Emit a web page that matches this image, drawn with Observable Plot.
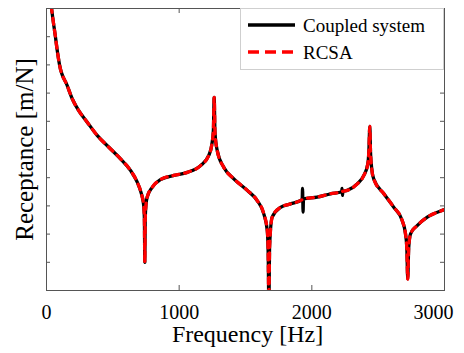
<!DOCTYPE html>
<html>
<head>
<meta charset="utf-8">
<script src="https://cdn.jsdelivr.net/npm/d3@7"></script>
<script src="https://cdn.jsdelivr.net/npm/@observablehq/plot@0.6"></script>
<style>
  body { margin: 0; background: #fff; }
  #wrap { position: relative; width: 464px; height: 353px; font-family: "Liberation Serif", "Times New Roman", serif; }
  #legend { position: absolute; left: 240px; top: 8px; }
</style>
</head>
<body>
<div id="wrap"></div>
<script>
// Frequency (Hz) and log10 receptance (decades above the bottom of the axis)
const freqHz = [25, 38, 50, 66, 81, 98, 156, 194, 243, 307, 382, 470, 558, 633, 684, 714, 733, 738, 741, 744, 750, 759, 797, 859, 960, 1061, 1161, 1223, 1249, 1258, 1264, 1270, 1287, 1336, 1412, 1513, 1588, 1638, 1664, 1671, 1676, 1682, 1701, 1764, 1839, 1927, 1937, 2040, 2141, 2225, 2234, 2267, 2342, 2392, 2422, 2430, 2437, 2442, 2452, 2467, 2543, 2618, 2681, 2706, 2716, 2723, 2730, 2744, 2794, 2870, 2995, 3000];
const rcsaLog = [10.5, 10.0, 9.57, 9.04, 8.51, 8.01, 7.27, 6.80, 6.38, 5.97, 5.50, 5.08, 4.67, 4.26, 3.84, 3.45, 3.01, 2.5, 1.0, 2.5, 3.05, 3.31, 3.66, 3.93, 4.08, 4.19, 4.43, 4.79, 5.26, 5.7, 6.85, 5.6, 4.96, 4.37, 3.96, 3.55, 3.19, 2.72, 2.13, 1.3, -0.5, 1.6, 2.60, 2.95, 3.07, 3.22, 3.25, 3.31, 3.43, 3.50, 3.52, 3.55, 3.78, 4.08, 4.49, 4.95, 5.82, 4.95, 4.3, 3.95, 3.43, 2.95, 2.48, 2.01, 1.5, 0.41, 1.5, 2.01, 2.30, 2.60, 2.86, 2.87];
// small extra modes seen only in the coupled-system curve
const glitchHz = [1930, 1934, 2228, 2231];
const glitchLog = [3.62, 2.78, 3.62, 3.37];

const xTicks = [0, 1000, 2000, 3000];
const yTicks = [0, 1, 2, 3, 4, 5, 6, 7, 8, 9, 10];
const seriesNames = ["Coupled system", "RCSA"];
const xLabel = "Frequency [Hz]";
const yLabel = "Receptance [m/N]";

const rcsa = freqHz.map((f, i) => ({f, v: rcsaLog[i]}));
const coupled = rcsa.concat(glitchHz.map((f, i) => ({f, v: glitchLog[i]}))).sort((a, b) => a.f - b.f);

const axisColor = "#555";
const chart = Plot.plot({
  width: 464,
  height: 353,
  marginLeft: 46,
  marginRight: 20,
  marginTop: 8,
  marginBottom: 63,
  x: {domain: [0, 3000], label: null},
  y: {domain: [0, 10], axis: null, label: null},
  style: {fontFamily: "Liberation Serif, Times New Roman, serif", background: "white", color: "black"},
  marks: [
    Plot.line(coupled, {x: "f", y: "v", stroke: "black", strokeWidth: 3.3, curve: "monotone-x", clip: true}),
    Plot.line(rcsa, {x: "f", y: "v", stroke: "#ff0000", strokeWidth: 3.3, strokeDasharray: "6,6", curve: "monotone-x", clip: true}),
    Plot.frame({stroke: axisColor}),
    Plot.tickX(xTicks, {x: d => d, stroke: axisColor, insetTop: 277}),
    Plot.tickX(xTicks, {x: d => d, stroke: axisColor, insetBottom: 277}),
    Plot.tickY(yTicks, {y: d => d, stroke: axisColor, insetRight: 394}),
    Plot.tickY(yTicks, {y: d => d, stroke: axisColor, insetLeft: 394}),
    Plot.axisX(xTicks.slice(0, 3), {tickSize: 0, tickPadding: 14, fontSize: 20, label: null, tickFormat: d => String(d)}),
    Plot.axisX(xTicks.slice(3), {tickSize: 0, tickPadding: 14, fontSize: 20, label: null, dx: -11, tickFormat: d => String(d)}),
    Plot.text([xLabel], {frameAnchor: "bottom", text: d => d, dy: 44, dx: 2, fontSize: 24, textAnchor: "middle", lineAnchor: "middle"}),
    Plot.text([yLabel], {frameAnchor: "left", text: d => d, rotate: -90, dx: -22, fontSize: 25, textAnchor: "middle", lineAnchor: "middle"})
  ]
});
const wrap = document.getElementById("wrap");
wrap.appendChild(chart);

// legend box inside the frame, top-right
const leg = d3.select(wrap).append("svg")
  .attr("id", "legend").attr("width", 204).attr("height", 62);
leg.append("rect").attr("x", 0.5).attr("y", 0.5).attr("width", 203).attr("height", 61)
  .attr("fill", "white").attr("stroke", "#cfcfcf");
const rows = [
  {name: seriesNames[0], stroke: "black", dash: null, w: 3.5, y: 17},
  {name: seriesNames[1], stroke: "#ff0000", dash: "11,6", w: 3.5, y: 44}
];
rows.forEach(r => {
  leg.append("line").attr("x1", 8).attr("x2", 55).attr("y1", r.y).attr("y2", r.y)
    .attr("stroke", r.stroke).attr("stroke-width", r.w).attr("stroke-dasharray", r.dash);
  leg.append("text").attr("x", 63).attr("y", r.y + 7)
    .attr("font-family", "Liberation Serif, Times New Roman, serif").attr("font-size", 19)
    .attr("fill", "black").text(r.name);
});
</script>
</body>
</html>
